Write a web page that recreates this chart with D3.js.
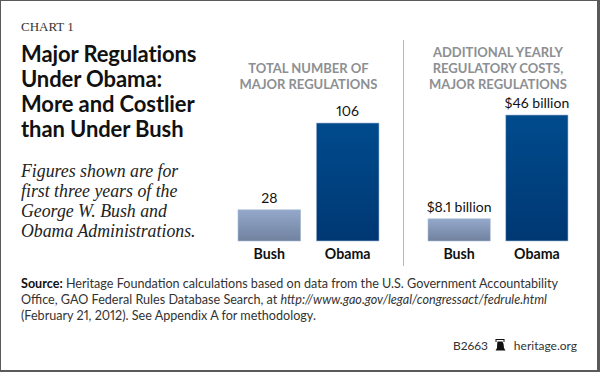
<!DOCTYPE html>
<html>
<head>
<meta charset="utf-8">
<script src="https://cdn.jsdelivr.net/npm/d3@7"></script>
<style>
  html, body { margin: 0; padding: 0; background: #fff; }
  svg { display: block; }
  text { font-family: Lato, "Open Sans", sans-serif; font-variant-numeric: proportional-nums; font-feature-settings: "pnum" 1; }
  .serif { font-family: "Liberation Serif", "DejaVu Serif", serif; }
</style>
</head>
<body>
<div id="chart"></div>
<script>
const categories = ['Bush', 'Obama'];
const regulationCounts = [28, 106];
const regulationLabels = ['28', '106'];
const regulationCosts = [8.1, 46];
const costLabels = ['$8.1 billion', '$46 billion'];
const titleLines = ['Major Regulations', 'Under Obama:', 'More and Costlier', 'than Under Bush'];
const noteLines = ['Figures shown are for', 'first three years of the', 'George W. Bush and', 'Obama Administrations.'];
const countHeading = ['TOTAL NUMBER OF', 'MAJOR REGULATIONS'];
const costHeading = ['ADDITIONAL YEARLY', 'REGULATORY COSTS,', 'MAJOR REGULATIONS'];

const width = 600, height = 372;
const baseline = 241;

const svg = d3.select('#chart').append('svg')
    .attr('width', width)
    .attr('height', height);

// outer frame, right and bottom edges are thicker
svg.append('rect').attr('width', width).attr('height', height).attr('fill', '#fff');
const frame = svg.append('g').attr('fill', '#5a5a5a');
frame.append('rect').attr('width', width).attr('height', 1);
frame.append('rect').attr('width', 1).attr('height', height);
frame.append('rect').attr('x', 597).attr('width', 3).attr('height', height);
frame.append('rect').attr('y', 370).attr('width', width).attr('height', 2);

// bar gradients
const defs = svg.append('defs');
function gradient(id, top, bottom) {
    const g = defs.append('linearGradient')
        .attr('id', id)
        .attr('x1', 0).attr('y1', 0).attr('x2', 0).attr('y2', 1);
    g.append('stop').attr('offset', '0%').attr('stop-color', top);
    g.append('stop').attr('offset', '100%').attr('stop-color', bottom);
}
gradient('lightBar', '#94a8cb', '#71829f');
gradient('darkBar', '#004b8d', '#003873');

// left text block
svg.append('text').attr('class', 'serif')
    .attr('x', 21).attr('y', 30.5)
    .attr('font-size', 13)
    .attr('fill', '#333')
    .text('CHART 1');

svg.append('g').selectAll('text')
    .data(titleLines)
    .enter().append('text')
    .attr('x', 21)
    .attr('y', (d, i) => 61.5 + i * 25.3)
    .attr('font-size', 22)
    .attr('font-weight', 700)
    .attr('letter-spacing', -0.1)
    .attr('fill', '#111')
    .text(d => d);

svg.append('g').selectAll('text')
    .data(noteLines)
    .enter().append('text')
    .attr('class', 'serif')
    .attr('x', 21)
    .attr('y', (d, i) => 177 + i * 20)
    .attr('font-size', 17.8)
    .attr('font-style', 'italic')
    .attr('fill', '#222')
    .text(d => d);

// one small bar panel
function drawPanel(opts) {
    const x = d3.scaleBand()
        .domain(categories)
        .range(opts.range)
        .paddingInner(0.2)
        .paddingOuter(0);
    const y = d3.scaleLinear()
        .domain([0, opts.max])
        .range([baseline, baseline - opts.pixels]);

    const g = svg.append('g');

    g.selectAll('rect')
        .data(opts.values)
        .enter().append('rect')
        .attr('x', (d, i) => x(categories[i]))
        .attr('y', d => y(d))
        .attr('width', x.bandwidth())
        .attr('height', d => baseline - y(d))
        .attr('fill', (d, i) => i === 0 ? 'url(#lightBar)' : 'url(#darkBar)')
        .attr('stroke', '#a9bbd6')
        .attr('stroke-width', 0.6);

    g.selectAll('.value')
        .data(opts.values)
        .enter().append('text')
        .attr('class', 'value')
        .attr('x', (d, i) => x(categories[i]) + x.bandwidth() / 2)
        .attr('y', d => y(d) - 7)
        .attr('text-anchor', 'middle')
        .attr('font-size', 14)
        .attr('fill', '#111')
        .text((d, i) => opts.labels[i]);

    g.selectAll('.cat')
        .data(categories)
        .enter().append('text')
        .attr('class', 'cat')
        .attr('x', d => x(d) + x.bandwidth() / 2)
        .attr('y', 259)
        .attr('text-anchor', 'middle')
        .attr('font-size', 14.2)
        .attr('font-weight', 700)
        .attr('fill', '#111')
        .text(d => d);

    g.selectAll('.head')
        .data(opts.heading)
        .enter().append('text')
        .attr('class', 'head')
        .attr('x', (opts.range[0] + opts.range[1]) / 2)
        .attr('y', (d, i) => opts.headingY + i * 16.2)
        .attr('text-anchor', 'middle')
        .attr('font-size', 13)
        .attr('font-weight', 700)
        .attr('fill', '#8c8f93')
        .text(d => d);
}

drawPanel({
    range: [238, 379], values: regulationCounts, labels: regulationLabels,
    max: 106, pixels: 118, heading: countHeading, headingY: 73
});
drawPanel({
    range: [428, 568], values: regulationCosts, labels: costLabels,
    max: 46, pixels: 126, heading: costHeading, headingY: 57
});

// divider
svg.append('line')
    .attr('x1', 403.5).attr('x2', 403.5)
    .attr('y1', 40).attr('y2', 266)
    .attr('stroke', '#b5b7b9')
    .attr('stroke-width', 1);

// source note
const source = svg.append('g').attr('font-size', 12.6).attr('fill', '#333');
const line1 = source.append('text').attr('x', 21).attr('y', 287.5);
line1.append('tspan').attr('font-weight', 700).attr('fill', '#111').text('Source:');
line1.append('tspan').text(' Heritage Foundation calculations based on data from the U.S. Government Accountability');
const line2 = source.append('text').attr('x', 21).attr('y', 303.5);
line2.append('tspan').text('Office, GAO Federal Rules Database Search, at ');
line2.append('tspan').attr('font-style', 'italic').text('http://www.gao.gov/legal/congressact/fedrule.html');
source.append('text').attr('x', 21).attr('y', 319.5)
    .text('(February 21, 2012). See Appendix A for methodology.');

// footer
svg.append('text')
    .attr('x', 488).attr('y', 350)
    .attr('text-anchor', 'end')
    .attr('font-size', 12)
    .attr('fill', '#333')
    .text('B2663');
// liberty bell logo
svg.append('path')
    .attr('d', 'M495.5 342 v-3 h9 v3 h-1 v-2 h-7 v2 z')
    .attr('fill', '#111');
svg.append('path')
    .attr('d', 'M497.5 341.5 h5 q1.5 2 1.5 6.5 l1.5 2.5 h-10 l1.5 -2.5 q0 -4.5 .5 -6.5 z')
    .attr('fill', '#111');
svg.append('text')
    .attr('x', 577).attr('y', 350)
    .attr('text-anchor', 'end')
    .attr('font-size', 12)
    .attr('fill', '#333')
    .text('heritage.org');
</script>
</body>
</html>
